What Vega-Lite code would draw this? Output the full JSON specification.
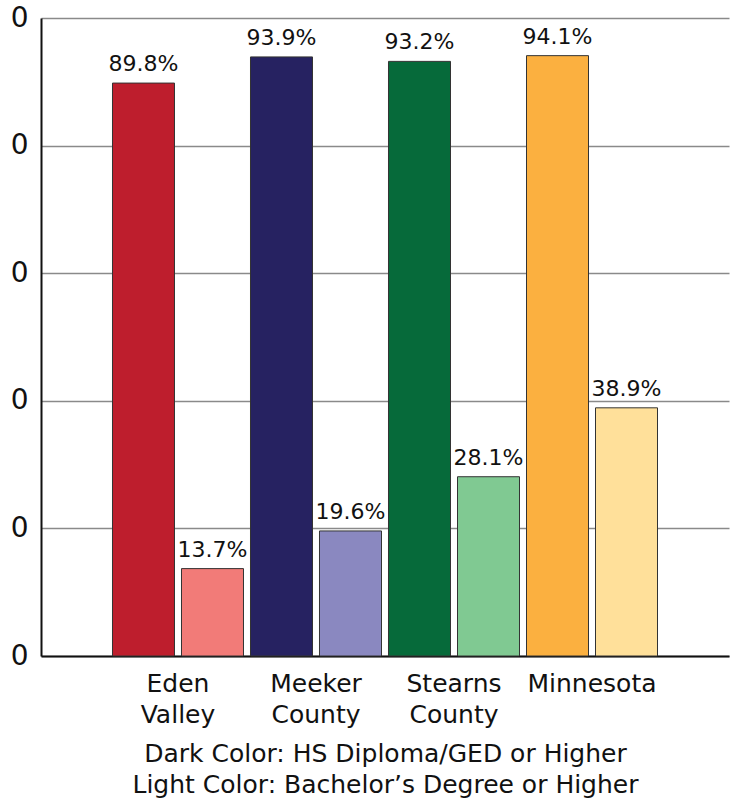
{
  "$schema": "https://vega.github.io/schema/vega-lite/v6.json",
  "autosize": {"type": "none"},
  "width": 688,
  "height": 638,
  "padding": {"left": 41, "top": 18, "right": 3, "bottom": 150},
  "background": "white",
  "config": {
    "font": "DejaVu Sans",
    "view": {"stroke": null}
  },
  "data": {
    "values": [
      {"place": "Eden Valley", "level": "HS", "code": "Eden Valley HS", "pct": 89.8, "label": "89.8%"},
      {"place": "Eden Valley", "level": "BA", "code": "Eden Valley BA", "pct": 13.7, "label": "13.7%"},
      {"place": "Meeker County", "level": "HS", "code": "Meeker County HS", "pct": 93.9, "label": "93.9%"},
      {"place": "Meeker County", "level": "BA", "code": "Meeker County BA", "pct": 19.6, "label": "19.6%"},
      {"place": "Stearns County", "level": "HS", "code": "Stearns County HS", "pct": 93.2, "label": "93.2%"},
      {"place": "Stearns County", "level": "BA", "code": "Stearns County BA", "pct": 28.1, "label": "28.1%"},
      {"place": "Minnesota", "level": "HS", "code": "Minnesota HS", "pct": 94.1, "label": "94.1%"},
      {"place": "Minnesota", "level": "BA", "code": "Minnesota BA", "pct": 38.9, "label": "38.9%"}
    ]
  },
  "encoding": {
    "x": {
      "field": "place",
      "type": "nominal",
      "sort": ["Eden Valley", "Meeker County", "Stearns County", "Minnesota"],
      "scale": {"paddingInner": 0.0507, "paddingOuter": 0.518},
      "axis": {
        "labelExpr": "split(datum.label, ' ')",
        "labelAngle": 0,
        "labelFontSize": 25,
        "labelLineHeight": 31,
        "labelColor": "#111",
        "labelPadding": 15,
        "labelLimit": 200,
        "ticks": false,
        "domainColor": "#111",
        "domainWidth": 2,
        "title": ["Dark Color: HS Diploma/GED or Higher", "Light Color: Bachelor’s Degree or Higher"],
        "titleFontSize": 25,
        "titleFontWeight": "normal",
        "titleColor": "#111",
        "titleLineHeight": 31,
        "titlePadding": 14
      }
    },
    "xOffset": {
      "field": "level",
      "type": "nominal",
      "sort": ["HS", "BA"],
      "scale": {"paddingInner": 0.1014, "paddingOuter": 0}
    },
    "y": {
      "field": "pct",
      "type": "quantitative",
      "scale": {"domain": [0, 100], "nice": false},
      "axis": {
        "values": [0, 20, 40, 60, 80, 100],
        "labelExpr": "slice(datum.label, -1)",
        "title": null,
        "ticks": false,
        "labelPadding": 13,
        "labelFontSize": 28,
        "labelColor": "#111",
        "domainColor": "#111",
        "domainWidth": 2,
        "grid": true,
        "gridColor": "#8a8a8a",
        "gridWidth": 1.5
      }
    }
  },
  "layer": [
    {
      "mark": {"type": "bar", "stroke": "#333", "strokeWidth": 1},
      "encoding": {
        "color": {
          "field": "code",
          "type": "nominal",
          "legend": null,
          "scale": {
            "domain": ["Eden Valley HS", "Eden Valley BA", "Meeker County HS", "Meeker County BA", "Stearns County HS", "Stearns County BA", "Minnesota HS", "Minnesota BA"],
            "range": ["#BE1E2D", "#F27B78", "#262261", "#8A88C0", "#066A3A", "#80C992", "#FBB040", "#FFE09A"]
          }
        }
      }
    },
    {
      "mark": {"type": "text", "baseline": "alphabetic", "dy": -12, "fontSize": 22, "color": "#111"},
      "encoding": {"text": {"field": "label"}}
    }
  ]
}
